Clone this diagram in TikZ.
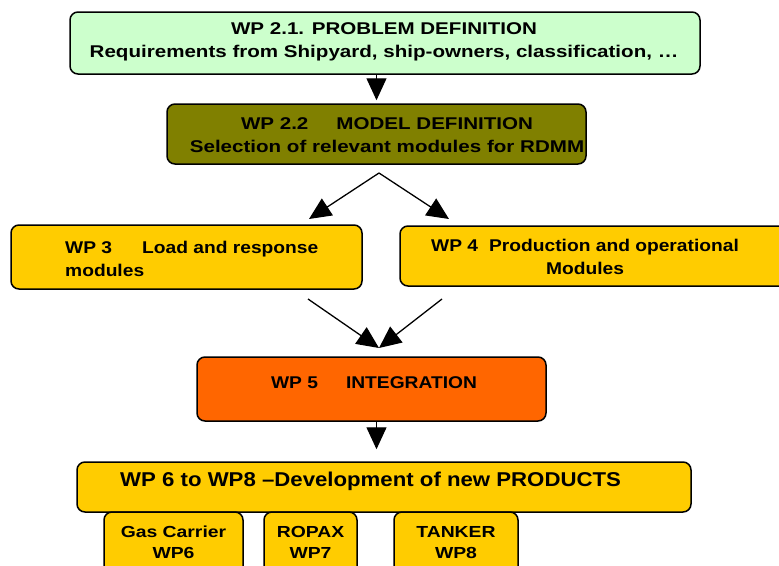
\documentclass[tikz,border=0pt]{standalone}
\usepackage{fontspec}
\setmainfont{Liberation Sans}
\newfontfamily\wideA[FakeStretch=1.21]{Liberation Sans}
\newfontfamily\wideB[FakeStretch=1.13]{Liberation Sans}
\newfontfamily\wideC[FakeStretch=1.11]{Liberation Sans}
\usetikzlibrary{arrows.meta}
\definecolor{cgreen}{HTML}{CCFFCC}
\definecolor{colive}{HTML}{808000}
\definecolor{cyel}{HTML}{FFCC00}
\definecolor{corange}{HTML}{FF6600}
\begin{document}
\begin{tikzpicture}[x=1pt,y=-1pt,
  box/.style={draw=black, line width=1.5pt, rounded corners=8pt, inner sep=0pt},
  lbl/.style={font=\wideA\bfseries\fontsize{17}{23}\selectfont, inner sep=0pt, align=center},
  lblb/.style={font=\wideB\bfseries\fontsize{17}{23}\selectfont, inner sep=0pt, align=center},
  lbls/.style={font=\wideA\bfseries\fontsize{16}{21}\selectfont, inner sep=0pt, align=center},
  arr/.style={line width=1.3pt, -{Triangle[length=22pt,width=20pt]}}]
\clip (0,0) rectangle (779,565);
\fill[white] (0,0) rectangle (779,565);
% boxes
\node[box, fill=cgreen, minimum width=630pt, minimum height=62pt] (b1) at (385,43) {};
\node[lbl] (t1) at (384,42) {WP 2.1. PROBLEM DEFINITION\\Requirements from Shipyard, ship-owners, classification, …};
\node[box, fill=colive, minimum width=419pt, minimum height=60pt] (b2) at (376.5,134) {};
\node[lbl] (t2) at (387,135) {WP 2.2\hspace{28pt}MODEL DEFINITION\\Selection of relevant modules for RDMM};
\node[box, fill=cyel, minimum width=351pt, minimum height=64pt] (b3) at (186.5,257) {};
\node[lblb, align=left, anchor=west] (t3) at (65,259) {WP 3\hspace{30pt}Load and response\\modules};
\node[box, fill=cyel, minimum width=390pt, minimum height=60pt] (b4) at (595,256) {};
\node[lblb] (t4) at (585,257) {WP 4\hspace{11pt}Production and operational\\Modules};
\node[box, fill=corange, minimum width=349pt, minimum height=64pt] (b5) at (371.5,389) {};
\node[lblb] (t5) at (374,383) {WP 5\hspace{28pt}INTEGRATION};
\node[box, fill=cyel, minimum width=614pt, minimum height=50pt] (b6) at (384,487) {};
\node[lbl, font=\wideC\bfseries\fontsize{20}{24}\selectfont, anchor=west] (t6) at (120,481) {WP 6 to WP8 –Development of new PRODUCTS};
\node[box, fill=cyel, minimum width=139pt, minimum height=70pt] (g) at (173.5,547) {};
\node[lbls] (tg) at (173.5,542.5) {Gas Carrier\\WP6};
\node[box, fill=cyel, minimum width=93pt, minimum height=70pt] (r) at (310.5,547) {};
\node[lbls] (tr) at (310.5,542.5) {ROPAX\\WP7};
\node[box, fill=cyel, minimum width=124pt, minimum height=70pt] (k) at (456,547) {};
\node[lbls] (tk) at (456,542.5) {TANKER\\WP8};
% connector points
\coordinate (apex) at (379,173);
\coordinate (e3) at (309,219);
\coordinate (e4) at (449,219);
\coordinate (s3) at (308,299);
\coordinate (s4) at (442,299);
\coordinate (m5) at (379,348);
% arrows
\draw[arr, shorten >=3pt] (b2.north |- b1.south) -- (b2.north);
\draw[arr] (apex) -- (e3);
\draw[arr] (apex) -- (e4);
\draw[arr] (s3) -- (m5);
\draw[arr] (s4) -- (m5);
\draw[arr, shorten >=12pt] (b5.south -| b2.north) -- (b6.north -| b2.north);
\end{tikzpicture}
\end{document}
